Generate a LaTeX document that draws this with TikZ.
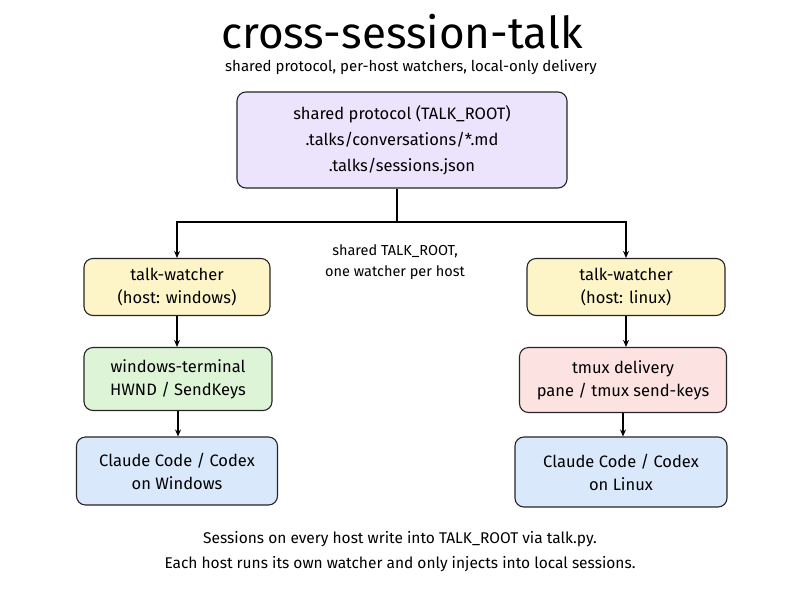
\documentclass[tikz,border=0pt]{standalone}
\usepackage{fontspec}
\setmainfont{Fira Sans}
\usetikzlibrary{arrows.meta}
\definecolor{cpurple}{HTML}{ECE3FD}
\definecolor{cyellow}{HTML}{FDF4C8}
\definecolor{cgreen}{HTML}{DDF5D6}
\definecolor{cred}{HTML}{FDE2E2}
\definecolor{cblue}{HTML}{DAE8FC}
\begin{document}
\begin{tikzpicture}[x=1pt,y=-1pt,
  box/.style={draw=black!85,line width=1.1pt,rounded corners=9pt,align=center,font=\fontsize{16.5}{23}\selectfont,inner sep=0pt},
  arr/.style={line width=1.1pt,-{Stealth[length=7pt,width=6pt]}},
  txt/.style={align=center,font=\fontsize{15}{24}\selectfont}]
\useasboundingbox (0,0) rectangle (800,600);
\fill[white] (0,0) rectangle (800,600);
\node[font=\fontsize{44}{48}\selectfont] (title) at (402,32) {cross-session-talk};
\node[txt] (sub) at (411,67) {shared protocol, per-host watchers, local-only delivery};
\node[box,fill=cpurple,minimum width=330pt,minimum height=96pt,font=\fontsize{16.5}{26}\selectfont] (proto) at (402,140) {shared protocol (TALK\_ROOT)\\.talks/conversations/*.md\\.talks/sessions.json};
\node[box,fill=cyellow,minimum width=186pt,minimum height=57pt] (wl) at (177,287) {talk-watcher\\(host: windows)};
\node[box,fill=cyellow,minimum width=198pt,minimum height=57pt] (wr) at (626,287) {talk-watcher\\(host: linux)};
\node[box,fill=cgreen,minimum width=188pt,minimum height=63pt] (dl) at (178,379) {windows-terminal\\HWND / SendKeys};
\node[box,fill=cred,minimum width=207pt,minimum height=65pt] (dr) at (623,380) {tmux delivery\\pane / tmux send-keys};
\node[box,fill=cblue,minimum width=201pt,minimum height=68pt] (cl) at (177,471) {Claude Code / Codex\\on Windows};
\node[box,fill=cblue,minimum width=212pt,minimum height=70pt] (cr) at (621,472) {Claude Code / Codex\\on Linux};
\node[txt,font=\fontsize{14.5}{21}\selectfont] (mid) at (395,262) {shared TALK\_ROOT,\\one watcher per host};
\node[txt,font=\fontsize{15.5}{25}\selectfont] (foot) at (400,552) {Sessions on every host write into TALK\_ROOT via talk.py.\\Each host runs its own watcher and only injects into local sessions.};
\coordinate (j) at (397,222);
\draw[line width=1.1pt] (proto.south -| j) -- (j);
\draw[arr] (j) -| (wl.north);
\draw[arr] (j) -| (wr.north);
\draw[arr] (wl.south) -- (wl.south |- dl.north);
\draw[arr] (wr) -- (wr |- dr.north);
\draw[arr] (dl) -- (dl |- cl.north);
\draw[arr] (dr) -- (dr |- cr.north);
\end{tikzpicture}
\end{document}
